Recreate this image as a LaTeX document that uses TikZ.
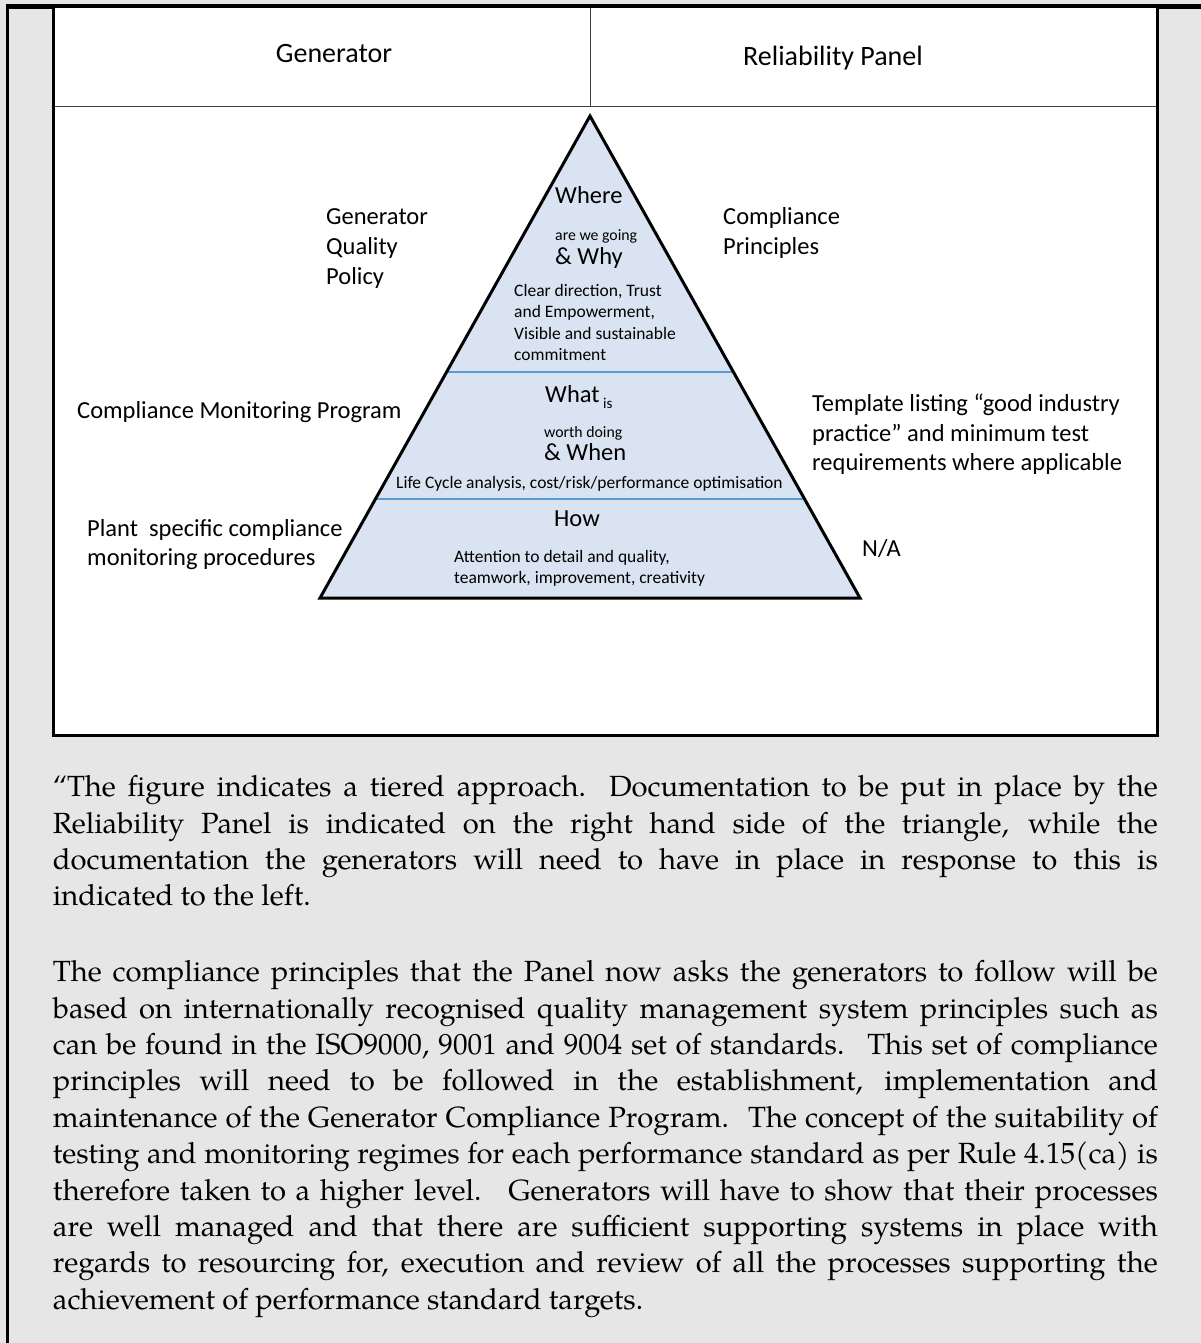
\documentclass[tikz,border=0pt]{standalone}
\usepackage{fontspec}
\setmainfont{Carlito}
\newfontfamily\palfont{TeX Gyre Pagella}
\newcommand{\szHdr}{\fontsize{28pt}{34pt}\selectfont}
\newcommand{\szA}{\fontsize{24.5pt}{30pt}\selectfont}
\newcommand{\szB}{\fontsize{17.5pt}{21.4pt}\selectfont}
\newcommand{\szC}{\fontsize{15.8pt}{19pt}\selectfont}
\newcommand{\szD}{\fontsize{15pt}{18pt}\selectfont}
\newcommand{\szBody}{\palfont\fontsize{29.2pt}{36.4pt}\selectfont}
\newcommand{\jl}[1]{\makebox[1105pt][s]{#1}}
\definecolor{bggrey}{HTML}{E6E6E6}
\definecolor{trifill}{HTML}{DAE3F1}
\definecolor{tierblue}{HTML}{5B9BD5}
\definecolor{hdrline}{HTML}{404040}
\begin{document}
\begin{tikzpicture}[x=1pt,y=-1pt,
  lblA/.style={anchor=base west, inner sep=0pt, font=\szA},
  lblB/.style={anchor=base west, inner sep=0pt, font=\szB},
  lblC/.style={anchor=base west, inner sep=0pt, font=\szC},
  hdr/.style={anchor=base, inner sep=0pt, font=\szHdr},
  body/.style={anchor=base west, inner sep=0pt, font=\szBody},
  frame/.style={line width=3pt, draw=black},
  tier/.style={line width=1.2pt, draw=tierblue}]
\useasboundingbox (0,0) rectangle (1201,1343);
\fill[bggrey] (0,0) rectangle (1201,1343);
% outer black lines
\draw[line width=3pt] (7.5,1343) -- (7.5,6.5) -- (1201,6.5);
\draw[line width=5pt] (6,6.5) -- (1201,6.5);
% white diagram box
\draw[frame, fill=white] (53.5,7) rectangle (1157.5,735);
\draw[line width=1.2pt, draw=hdrline] (55,106.5) -- (1156,106.5);
\draw[line width=1.2pt, draw=hdrline] (590.5,8.5) -- (590.5,106.5);
\node[hdr] (hgen) at (334,63) {Generator};
\node[hdr] (hrel) at (833,66) {Reliability Panel};
% triangle
\coordinate (apex) at (590,116);
\coordinate (bl) at (320,598);
\coordinate (br) at (860,598);
\fill[trifill] (apex) -- (bl) -- (br) -- cycle;
\draw[tier] (446.6,372) -- (733.4,372);
\draw[tier] (375.5,499) -- (804.5,499);
\draw[line width=3pt, line join=miter] (apex) -- (bl) -- (br) -- cycle;
% triangle texts
\node[lblA] (where) at (555,204) {Where};
\node[lblC] (going) at (555,240) {are we going};
\node[lblA] (why) at (555,264) {\& Why};
\node[lblB] (cd1) at (514,296) {Clear direction, Trust};
\node[lblB] (cd2) at (514,317) {and Empowerment,};
\node[lblB] (cd3) at (514,339) {Visible and sustainable};
\node[lblB] (cd4) at (514,360) {commitment};
\node[lblA] (what) at (545,402) {What};
\node[anchor=base west, inner sep=0pt, font=\szD] (is) at (603,408) {is};
\node[lblC] (worth) at (544,437) {worth doing};
\node[lblA] (when) at (544,460) {\& When};
\node[lblB] (life) at (396,488) {Life Cycle analysis, cost/risk/performance optimisation};
\node[lblA] (how) at (554,526) {How};
\node[lblB] (att1) at (454,562) {Attention to detail and quality,};
\node[lblB] (att2) at (454,583) {teamwork, improvement, creativity};
% side labels
\node[lblA] (gq1) at (326,224) {Generator};
\node[lblA] (gq2) at (326,254) {Quality};
\node[lblA] (gq3) at (326,284) {Policy};
\node[lblA] (cp1) at (723,224) {Compliance};
\node[lblA] (cp2) at (723,254) {Principles};
\node[lblA] (cmp) at (77,418) {Compliance Monitoring Program};
\node[lblA] (tp1) at (812,411) {Template listing “good industry};
\node[lblA] (tp2) at (812,441) {practice” and minimum test};
\node[lblA] (tp3) at (812,470) {requirements where applicable};
\node[lblA] (ps1) at (87,536) {Plant \ specific compliance};
\node[lblA] (ps2) at (87,565) {monitoring procedures};
\node[lblA] (na) at (862,556) {N/A};
% body text
\node[body] (p1a) at (52.7,796.7) {\jl{“The figure indicates a tiered approach. Documentation to be put in place by the}};
\node[body] (p1b) at (52.7,833.1) {\jl{Reliability Panel is indicated on the right hand side of the triangle, while the}};
\node[body] (p1c) at (52.7,869.5) {\jl{documentation the generators will need to have in place in response to this is}};
\node[body] (p1d) at (52.7,905.9) {indicated to the left.};
\node[body] (p2a) at (52.7,981.7) {\jl{The compliance principles that the Panel now asks the generators to follow will be}};
\node[body] (p2b) at (52.7,1018.1) {\jl{based on internationally recognised quality management system principles such as}};
\node[body] (p2c) at (52.7,1054.5) {\jl{can be found in the ISO9000, 9001 and 9004 set of standards. \ This set of compliance}};
\node[body] (p2d) at (52.7,1090.9) {\jl{principles will need to be followed in the establishment, implementation and}};
\node[body] (p2e) at (52.7,1127.3) {\jl{maintenance of the Generator Compliance Program. \ The concept of the suitability of}};
\node[body] (p2f) at (52.7,1163.7) {\jl{testing and monitoring regimes for each performance standard as per Rule 4.15(ca) is}};
\node[body] (p2g) at (52.7,1200.1) {\jl{therefore taken to a higher level. \ Generators will have to show that their processes}};
\node[body] (p2h) at (52.7,1236.5) {\jl{are well managed and that there are sufficient supporting systems in place with}};
\node[body] (p2i) at (52.7,1272.9) {\jl{regards to resourcing for, execution and review of all the processes supporting the}};
\node[body] (p2j) at (52.7,1309.3) {achievement of performance standard targets.};
\end{tikzpicture}
\end{document}
